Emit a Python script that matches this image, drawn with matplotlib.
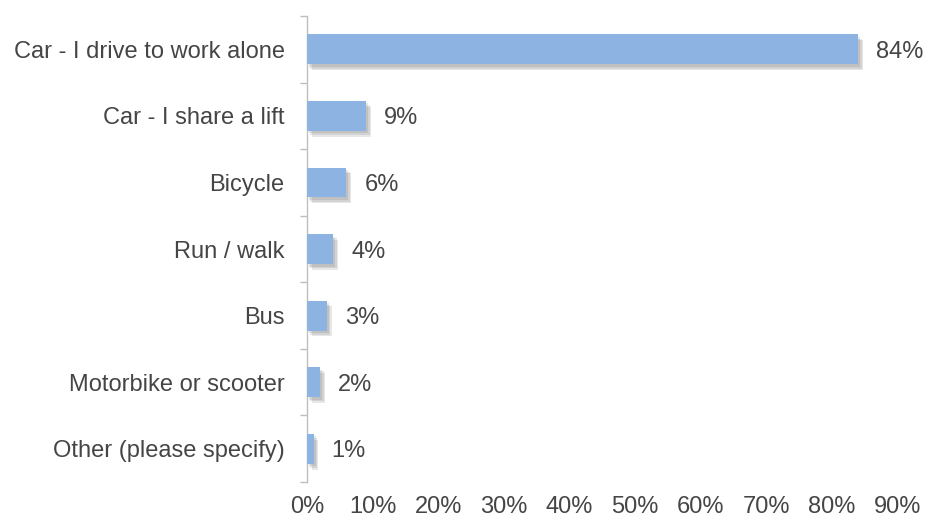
import matplotlib
matplotlib.use("Agg")
import matplotlib.pyplot as plt
import matplotlib.patheffects as pe
from matplotlib.ticker import FuncFormatter

# survey answers, top to bottom
modes = ["Car - I drive to work alone", "Car - I share a lift", "Bicycle",
         "Run / walk", "Bus", "Motorbike or scooter", "Other (please specify)"]
shares = [84, 9, 6, 4, 3, 2, 1]
xticks = [0, 10, 20, 30, 40, 50, 60, 70, 80, 90]

plt.rcParams["font.family"] = ["Liberation Sans", "DejaVu Sans"]
text_col = "#454545"
fs = 17

fig = plt.figure(figsize=(9.26, 5.2), dpi=100)
ax = fig.add_axes([0.3315, 0.073, 0.638, 0.896])

pos = list(range(len(modes)))
bars = ax.barh(pos, shares, height=0.45, color="#8DB3E2", zorder=3)
# soft drop shadow, a few faint layers
shadow = [pe.SimplePatchShadow(offset=(d, -d * 1.2), shadow_rgbFace="#404040", alpha=0.12)
          for d in (3.5, 2.5, 1.5)]
for b in bars:
    b.set_path_effects(shadow + [pe.Normal()])

for p, v in zip(pos, shares):
    ax.annotate(f"{v}%", (v, p), xytext=(13, 0), textcoords="offset points",
                va="center_baseline", ha="left", fontsize=fs, color=text_col)

ax.set_ylim(len(modes) - 0.5, -0.5)
ax.set_xlim(0, 90)
ax.set_yticks(pos)
ax.set_yticklabels(modes, fontsize=fs, color=text_col)
ax.set_yticks([i - 0.5 for i in range(len(modes) + 1)], minor=True)
ax.tick_params(axis="y", which="major", length=0, pad=16)
ax.tick_params(axis="y", which="minor", length=5, color="#BFBFBF", width=1)
ax.set_xticks(xticks)
ax.xaxis.set_major_formatter(FuncFormatter(lambda v, _: f"{v:.0f}%"))
ax.tick_params(axis="x", length=0, labelsize=fs, labelcolor=text_col, pad=10)

for s in ["top", "right", "bottom"]:
    ax.spines[s].set_visible(False)
ax.spines["left"].set_color("#BFBFBF")
ax.spines["left"].set_linewidth(1)

fig.savefig("out.png", dpi=100)
